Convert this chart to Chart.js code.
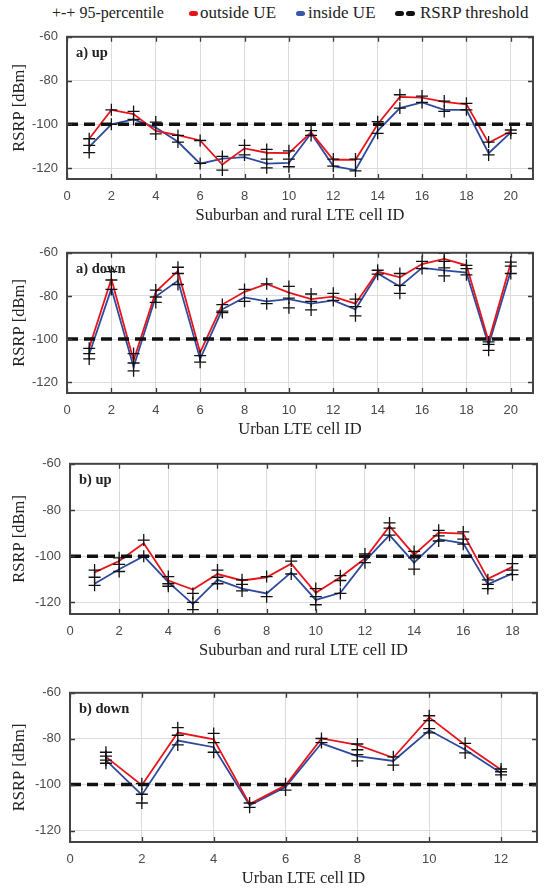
<!DOCTYPE html>
<html>
<head>
<meta charset="utf-8">
<script src="https://cdn.jsdelivr.net/npm/chart.js@4.4.0/dist/chart.umd.min.js"></script>
<style>
  body { margin: 0; background: #fff; width: 548px; height: 894px; position: relative; overflow: hidden; font-family: "Liberation Serif", serif; }
  canvas { position: absolute; left: 0; }
  .lg { position: absolute; top: 2px; font-size: 17px; color: #222; white-space: nowrap; line-height: 22px; }
  .mk { position: absolute; top: 11px; width: 9px; height: 5px; border-radius: 3px; }
</style>
</head>
<body>
<span class="lg" style="left:52px;font-size:16px">+-+ 95-percentile</span>
<span class="mk" style="left:189px;background:#e8141c"></span>
<span class="lg" style="left:200px">outside UE</span>
<span class="mk" style="left:296px;background:#3a58a8"></span>
<span class="lg" style="left:308px">inside UE</span>
<span class="mk" style="left:395px;background:#111"></span>
<span class="mk" style="left:406px;background:#111"></span>
<span class="lg" style="left:420px">RSRP threshold</span>

<canvas id="c1"></canvas>
<canvas id="c2"></canvas>
<canvas id="c3"></canvas>
<canvas id="c4"></canvas>

<script>
// 共通
const rsrpThreshold = -100;
const yTicks = [-120, -100, -80, -60];

// a) up : Suburban and rural
const aCells = [1, 2, 3, 4, 5, 6, 7, 8, 9, 10, 11, 12, 13, 14, 15, 16, 17, 18, 19, 20];
const aXTicks = [0, 2, 4, 6, 8, 10, 12, 14, 16, 18, 20];
const aUpOutside = [-106.6, -93.4, -95.3, -103, -105, -107.4, -118.4, -111, -113, -113.2, -103.7, -116.2, -116.2, -100, -87.5, -87.8, -89.7, -90.9, -108.5, -103.2];
const aUpInside = [-110.3, -100, -97.8, -101.5, -108, -118, -115.7, -115, -118, -117.6, -104.1, -119.1, -120.9, -103, -92.6, -90, -93.4, -93.4, -113.2, -103.7];
const aUpPct = [
    [-106.6, -109.6, -112.9], [-93.4, -100], [-94.1, -97.8], [-99, -104.4], [-105.1, -108.1],
    [-107.4, -117.9], [-114.7, -120.9], [-109.6, -114], [-111.5, -115.9, -119.9], [-112.1, -115.9, -119.4],
    [-102.9, -105.1], [-115.9, -119.1], [-115.9, -121.3], [-98.8, -104.1], [-86.5, -92.6],
    [-87.1, -90], [-89.4, -94.1], [-90.4, -93.4], [-108.1, -114], [-102.6, -104.1]
];

// a) down : Urban
const aDownOutside = [-104, -72.1, -109.9, -78.1, -68.4, -106.2, -84, -78.1, -74.4, -78.5, -81.5, -80.3, -83.6, -68.7, -71.4, -65.2, -62.8, -65.8, -101, -64.7];
const aDownInside = [-107, -76.6, -112.9, -80.3, -72.9, -109.2, -86.2, -80.7, -82.5, -81.5, -83.6, -82.1, -86.2, -69.6, -75.6, -67, -68.1, -69.2, -102.8, -68.4];
const aDownPct = [
    [-104.3, -106.7, -109.2], [-68.7, -72.6, -77], [-106.7, -111.1, -114.7], [-77.3, -80.5, -83], [-66.7, -69.6, -74.7],
    [-107.7, -110.7], [-84, -87, -87.7], [-77, -82.5], [-74.4, -83.6], [-75.6, -81, -85.5],
    [-79.1, -82.5, -86.5], [-78.8, -82.1], [-81.5, -85, -89.2], [-68.1, -69.9], [-69.6, -75.1, -78.8],
    [-64, -67.3], [-60.3, -64, -67, -70.7], [-65.8, -67.3, -70.2], [-101.3, -102.5, -105.2], [-64.3, -66.2, -69.6]
];

// b) up : Suburban and rural
const bUpCells = [1, 2, 3, 4, 5, 6, 7, 8, 9, 10, 11, 12, 13, 14, 15, 16, 17, 18];
const bUpXTicks = [0, 2, 4, 6, 8, 10, 12, 14, 16, 18];
const bUpOutside = [-107, -102.1, -94.4, -110.5, -114.4, -107.7, -110.5, -109.1, -103.2, -115.8, -109.1, -101, -87, -99.3, -89.8, -90.2, -109.8, -104.6];
const bUpInside = [-111.9, -105.6, -100, -111.2, -120.7, -110.2, -114, -116.1, -107, -118.9, -115.8, -102.1, -90.9, -102.8, -92.6, -94.4, -112.2, -107.4];
const bUpPct = [
    [-106, -109.1, -112.6], [-100.7, -103.5, -106.6], [-93, -100], [-108.8, -111.9, -113], [-116.1, -120, -123.1],
    [-106, -109.1, -111.9], [-110.2, -112.2, -115], [-108.8, -117.5], [-102.1, -107.7], [-114, -117.5, -121],
    [-108.4, -110.5, -116.1], [-99, -102.8], [-85.6, -87.8, -90.9], [-97.9, -100.7, -105.6], [-88.8, -91.2, -93.4],
    [-89.5, -92.6, -94.8], [-110.2, -112.2, -114], [-103.2, -106, -108]
];

// b) down : Urban
const bDownCells = [1, 2, 3, 4, 5, 6, 7, 8, 9, 10, 11, 12];
const bDownXTicks = [0, 2, 4, 6, 8, 10, 12];
const bDownOutside = [-87.9, -100.3, -77.3, -80.3, -108.5, -100.3, -79.9, -82.7, -88.3, -70.7, -82.7, -93.5];
const bDownInside = [-89.3, -104.5, -80.8, -83.7, -109, -101, -82, -87.6, -89.7, -76.3, -84.8, -94.9];
const bDownPct = [
    [-85.9, -87.6, -89.3, -90.7], [-99.6, -104.2, -108], [-75.2, -78.5, -82.7], [-77.7, -81.7, -85.9], [-108, -109.9],
    [-99.6, -102.4], [-79.9, -81.7], [-82.3, -84.8, -86.9, -89.7], [-87.9, -91.5], [-70, -72.1, -75.6, -77.5],
    [-82, -86.2], [-93.2, -94.4, -95.8]
];

const tickFont = { family: '"Liberation Sans", sans-serif', size: 13 };
const titleFont = { family: '"Liberation Serif", serif', size: 16.5 };

// 枠線・内向き目盛り・パネル名
const framePlugin = {
    id: 'frame',
    afterDraw(chart, args, opts) {
        const { ctx, chartArea: a, scales: { x, y } } = chart;
        ctx.save();
        ctx.strokeStyle = '#3a3a3a';
        ctx.lineWidth = 1.3;
        ctx.beginPath();
        x.ticks.forEach(t => {
            const px = Math.round(x.getPixelForValue(t.value)) + 0.5;
            ctx.moveTo(px, a.top); ctx.lineTo(px, a.top + 5);
            ctx.moveTo(px, a.bottom); ctx.lineTo(px, a.bottom - 5);
        });
        y.ticks.forEach(t => {
            const py = Math.round(y.getPixelForValue(t.value)) + 0.5;
            ctx.moveTo(a.left, py); ctx.lineTo(a.left + 5, py);
            ctx.moveTo(a.right, py); ctx.lineTo(a.right - 5, py);
        });
        ctx.stroke();
        ctx.lineWidth = 2;
        ctx.strokeStyle = '#444';
        ctx.strokeRect(a.left, a.top, a.right - a.left, a.bottom - a.top);
        ctx.font = 'bold 14.5px "Liberation Serif", serif';
        ctx.fillStyle = '#222';
        ctx.textBaseline = 'middle';
        ctx.fillText(opts.label, a.left + 9, a.top + 16);
        ctx.restore();
    }
};

function makePanel(id, box, cells, xTicks, xMax, outside, inside, pct, label, xTitle) {
    const canvas = document.getElementById(id);
    const canvasTop = box.top - 12;
    const canvasHeight = box.bottom + 47 - canvasTop;
    canvas.style.top = canvasTop + 'px';
    canvas.style.width = '548px';
    canvas.style.height = canvasHeight + 'px';
    canvas.width = 548;
    canvas.height = canvasHeight;

    const pctPoints = [];
    pct.forEach((vals, i) => vals.forEach(v => pctPoints.push({ x: cells[i], y: v })));

    new Chart(canvas.getContext('2d'), {
        type: 'line',
        data: {
            datasets: [
                {
                    label: '95-percentile',
                    data: pctPoints,
                    showLine: false,
                    pointStyle: 'cross',
                    pointRadius: 6,
                    borderColor: '#111',
                    borderWidth: 1.3,
                    order: 0
                },
                {
                    label: 'RSRP threshold',
                    data: [{ x: 0, y: rsrpThreshold }, { x: xMax, y: rsrpThreshold }],
                    borderColor: '#111',
                    borderWidth: 3.5,
                    borderDash: [11, 6],
                    pointRadius: 0,
                    order: 1
                },
                {
                    label: 'outside UE',
                    data: cells.map((c, i) => ({ x: c, y: outside[i] })),
                    borderColor: '#e8141c',
                    borderWidth: 1.8,
                    pointRadius: 0,
                    order: 2
                },
                {
                    label: 'inside UE',
                    data: cells.map((c, i) => ({ x: c, y: inside[i] })),
                    borderColor: '#2e4a9c',
                    borderWidth: 1.8,
                    pointRadius: 0,
                    order: 3
                }
            ]
        },
        options: {
            responsive: false,
            animation: false,
            layout: { padding: { top: 12, right: 548 - box.right, left: 0, bottom: 0 } },
            scales: {
                x: {
                    type: 'linear',
                    min: 0,
                    max: xMax,
                    afterBuildTicks: s => { s.ticks = xTicks.map(v => ({ value: v })); },
                    afterFit: s => { s.height = 47; },
                    grid: { color: '#dcdcdc', lineWidth: 1, drawTicks: false },
                    border: { display: false },
                    ticks: { font: tickFont, color: '#4a4a4a', padding: 10, maxRotation: 0 },
                    title: { display: true, text: xTitle, font: titleFont, color: '#222', padding: { top: 2, bottom: 0 } }
                },
                y: {
                    min: -125,
                    max: -60,
                    afterBuildTicks: s => { s.ticks = yTicks.map(v => ({ value: v })); },
                    afterFit: s => { s.width = box.left; },
                    grid: { color: '#dcdcdc', lineWidth: 1, drawTicks: false },
                    border: { display: false },
                    ticks: { font: tickFont, color: '#4a4a4a', padding: 9 },
                    title: { display: true, text: 'RSRP [dBm]', font: titleFont, color: '#222', padding: { top: 10, bottom: 0 } }
                }
            },
            plugins: {
                legend: { display: false },
                tooltip: { enabled: false },
                frame: { label: label }
            }
        },
        plugins: [framePlugin]
    });
}

makePanel('c1', { left: 67, right: 533, top: 32, bottom: 179 }, aCells, aXTicks, 21, aUpOutside, aUpInside, aUpPct, 'a) up', 'Suburban and rural LTE cell ID');
makePanel('c2', { left: 67, right: 533, top: 248, bottom: 393 }, aCells, aXTicks, 21, aDownOutside, aDownInside, aDownPct, 'a) down', 'Urban LTE cell ID');
makePanel('c3', { left: 70, right: 537, top: 459, bottom: 614 }, bUpCells, bUpXTicks, 19, bUpOutside, bUpInside, bUpPct, 'b) up', 'Suburban and rural LTE cell ID');
makePanel('c4', { left: 70, right: 537, top: 688, bottom: 842 }, bDownCells, bDownXTicks, 13, bDownOutside, bDownInside, bDownPct, 'b) down', 'Urban LTE cell ID');
</script>
</body>
</html>
